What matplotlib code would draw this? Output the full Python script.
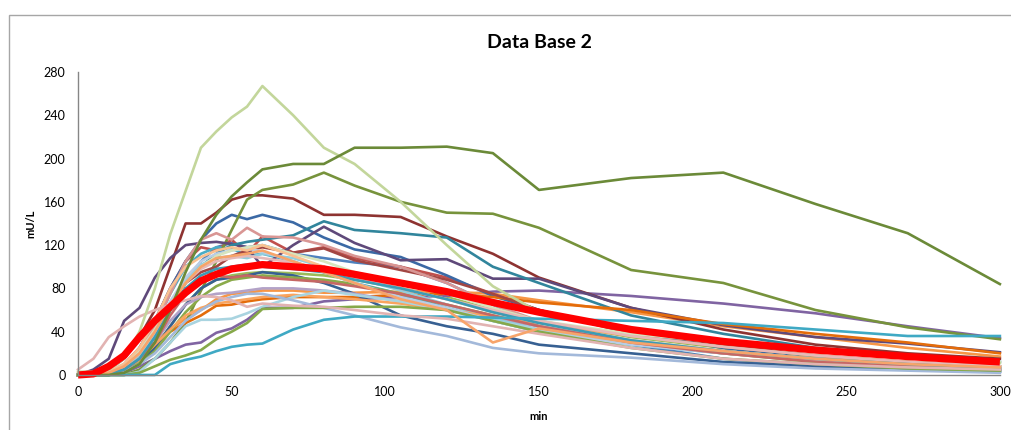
import matplotlib
matplotlib.use("Agg")
import matplotlib.pyplot as plt
from matplotlib.patches import Rectangle

# sampling times (min)
times = [0, 5, 10, 15, 20, 25, 30, 35, 40, 45, 50, 55, 60, 70, 80, 90, 105, 120, 135, 150, 180, 210, 240, 270, 300]

# individual insulin curves (mU/L)
dark_green = [0, 0, 0, 2, 10, 30, 60, 95, 125, 148, 165, 178, 190, 195, 195, 210, 210, 211, 205, 171, 182, 187, 158, 131, 84]
olive = [0, 0, 0, 0, 5, 15, 30, 48, 78, 105, 134, 162, 171, 176, 187, 175, 160, 150, 149, 136, 97, 85, 60, 44, 33]
sage = [3, 3, 5, 15, 40, 80, 130, 170, 210, 225, 238, 248, 267, 240, 210, 195, 160, 120, 82, 58, 40, 32, 24, 17, 11]
maroon = [0, 2, 5, 15, 35, 60, 100, 140, 140, 150, 162, 166, 166, 163, 148, 148, 146, 128, 112, 90, 62, 42, 28, 20, 15]
blue_hi = [0, 0, 2, 8, 25, 50, 80, 105, 125, 140, 148, 144, 148, 141, 127, 116, 109, 92, 73, 60, 40, 25, 15, 8, 4]
teal = [0, 0, 0, 3, 15, 35, 60, 85, 100, 112, 120, 123, 125, 129, 142, 134, 131, 127, 100, 85, 55, 38, 25, 18, 12]
purple_dk = [0, 5, 15, 50, 62, 90, 108, 120, 122, 123, 121, 118, 100, 120, 137, 122, 106, 107, 89, 89, 62, 46, 35, 29, 21]
aqua_low = [0, 0, 0, 0, 0, 0, 10, 14, 17, 22, 26, 28, 29, 42, 51, 54, 54, 54, 53, 52, 50, 48, 42, 36, 36]
lavender = [0, 0, 0, 2, 8, 15, 22, 28, 30, 39, 43, 51, 62, 62, 68, 70, 72, 73, 77, 78, 73, 66, 57, 45, 34]
orange_a = [0, 0, 2, 8, 18, 30, 42, 52, 60, 70, 75, 76, 78, 78, 76, 76, 77, 77, 75, 69, 58, 45, 35, 25, 17]
orange_b = [0, 0, 1, 5, 15, 28, 40, 48, 55, 64, 65, 68, 70, 72, 72, 72, 74, 75, 72, 67, 60, 47, 38, 30, 20]
peach = [0, 0, 2, 8, 20, 40, 65, 85, 100, 108, 110, 112, 115, 105, 95, 85, 70, 60, 30, 43, 30, 22, 15, 10, 7]
pink = [5, 15, 35, 45, 54, 60, 65, 69, 73, 72, 69, 63, 66, 64, 63, 60, 55, 52, 45, 38, 25, 15, 10, 7, 5]
light_blue = [0, 0, 0, 3, 10, 20, 35, 50, 60, 68, 72, 75, 75, 69, 62, 55, 44, 36, 25, 20, 16, 10, 6, 4, 2]
pale_aqua = [0, 0, 0, 0, 3, 15, 30, 45, 51, 51, 52, 57, 63, 72, 78, 74, 68, 60, 50, 42, 30, 22, 15, 10, 7]
green_slow = [0, 0, 0, 0, 2, 8, 14, 18, 23, 33, 40, 48, 61, 62, 62, 63, 63, 60, 50, 40, 25, 15, 10, 6, 4]
rose = [0, 1, 3, 10, 25, 45, 75, 105, 125, 131, 125, 136, 128, 127, 120, 110, 100, 85, 65, 50, 30, 20, 13, 8, 5]
red = [0, 1, 3, 10, 25, 50, 80, 105, 118, 115, 125, 112, 128, 113, 118, 108, 100, 90, 75, 60, 38, 25, 15, 10, 6]
blue_b = [0, 0, 2, 6, 18, 35, 60, 85, 105, 118, 122, 118, 120, 112, 108, 104, 100, 85, 65, 45, 28, 15, 8, 5, 3]
blue_c = [0, 0, 0, 3, 10, 25, 45, 65, 80, 88, 90, 92, 95, 92, 85, 75, 55, 45, 38, 28, 20, 12, 8, 5, 3]
peach2 = [0, 0, 3, 10, 25, 50, 80, 100, 109, 115, 118, 115, 120, 110, 100, 90, 80, 70, 58, 48, 32, 22, 15, 10, 7]
light_green = [2, 2, 4, 10, 22, 42, 65, 85, 100, 110, 115, 118, 120, 112, 105, 95, 85, 75, 62, 50, 38, 30, 22, 16, 12]
aqua2 = [0, 0, 2, 8, 22, 45, 75, 100, 112, 118, 117, 110, 112, 105, 95, 85, 75, 62, 50, 40, 28, 20, 14, 10, 7]
light_aqua = [0, 0, 1, 6, 18, 38, 65, 88, 102, 108, 110, 108, 112, 108, 100, 90, 78, 65, 52, 42, 30, 22, 15, 10, 6]
light_blue2 = [0, 0, 2, 8, 20, 40, 68, 90, 105, 112, 115, 117, 114, 105, 95, 85, 72, 62, 50, 40, 28, 20, 13, 8, 5]
green_mid = [0, 0, 1, 4, 12, 25, 45, 65, 80, 88, 92, 94, 95, 94, 92, 88, 80, 72, 60, 50, 35, 25, 17, 12, 8]
olive2 = [0, 0, 0, 3, 10, 22, 40, 58, 72, 82, 88, 90, 92, 90, 88, 84, 75, 65, 55, 45, 30, 20, 12, 8, 5]
mauve = [0, 0, 1, 5, 15, 30, 50, 65, 72, 75, 76, 78, 80, 80, 78, 75, 68, 60, 52, 45, 32, 22, 15, 10, 6]
red2 = [0, 0, 1, 5, 15, 30, 55, 75, 88, 92, 90, 92, 90, 88, 86, 82, 75, 65, 55, 45, 30, 20, 12, 8, 5]
teal2 = [0, 0, 1, 5, 15, 35, 60, 80, 92, 98, 100, 102, 100, 98, 95, 88, 80, 70, 58, 48, 32, 22, 15, 10, 6]
pink2 = [0, 0, 2, 8, 20, 40, 65, 85, 98, 105, 108, 110, 108, 104, 98, 90, 80, 70, 60, 50, 36, 26, 18, 12, 8]
orange3 = [0, 0, 1, 5, 14, 28, 42, 55, 62, 66, 68, 70, 72, 74, 72, 70, 66, 60, 54, 48, 36, 26, 18, 12, 8]
dkred2 = [0, 0, 2, 8, 20, 40, 65, 85, 95, 100, 110, 115, 118, 113, 117, 106, 97, 88, 75, 60, 40, 28, 18, 12, 8]

# average curve
mean_curve = [0, 1, 8, 18, 35, 50, 63, 76, 87, 93, 98, 100, 102, 100, 98, 93, 85, 77, 67, 58, 42, 31, 23, 17, 12]

curves = [
    (blue_b, '#4F81BD'), (red, '#C0504D'), (green_mid, '#9BBB59'), (lavender, '#8064A2'),
    (aqua2, '#4BACC6'), (orange_a, '#F79646'), (blue_hi, '#3B69A5'), (maroon, '#8E3331'),
    (olive, '#77933C'), (purple_dk, '#5F497A'), (teal, '#31859C'), (orange_b, '#E46C0A'),
    (blue_c, '#376092'), (dkred2, '#A24643'), (olive2, '#8AAA4A'), (mauve, '#B3A2C7'),
    (light_aqua, '#93CDDD'), (orange3, '#F9A45F'), (light_blue2, '#B9CDE5'), (rose, '#D99694'),
    (light_green, '#D7E4BD'), (pale_aqua, '#A9D4E0'), (peach2, '#FAC090'), (pink2, '#E6B9B8'),
    (light_blue, '#A3B9DA'), (red2, '#C66764'), (teal2, '#3D9BB5'), (green_slow, '#86A94A'),
    (aqua_low, '#3FA9C4'), (pink, '#E2B3B2'), (peach, '#F7A46A'), (sage, '#C3D69B'),
    (dark_green, '#6B8A38'),
]

plt.rcParams['font.family'] = ['Lato', 'DejaVu Sans']

fig = plt.figure(figsize=(10.11, 4.30), dpi=100)
ax = fig.add_axes([0.0772, 0.128, 0.9118, 0.7046])

for values, color in curves:
    ax.plot(times, values, color=color, linewidth=1.9, clip_on=False, solid_joinstyle='round')
ax.plot(times, mean_curve, color='#FF0000', linewidth=5.2, clip_on=False, solid_capstyle='butt')

ax.set_xlim(0, 300)
ax.set_ylim(0, 280)
ax.set_xticks(range(0, 301, 50))
ax.set_yticks(range(0, 281, 40))
ax.tick_params(length=0, labelsize=9)
ax.tick_params(axis='y', pad=9)
ax.tick_params(axis='x', pad=8)
for side in ('top', 'right'):
    ax.spines[side].set_visible(False)
for side in ('left', 'bottom'):
    ax.spines[side].set_color('#868686')
    ax.spines[side].set_linewidth(1.0)

ax.set_title('Data Base 2', fontsize=14, fontweight='bold', pad=17)
ax.set_xlabel('min', fontsize=8, fontweight='bold', labelpad=9)
ax.set_ylabel('mU/L', fontsize=8, fontweight='bold', labelpad=5)

# chart area border
fig.add_artist(Rectangle((9 / 1011, -0.1), 1.2, (430 - 15) / 430 + 0.1,
                         transform=fig.transFigure, fill=False,
                         edgecolor='#A6A6A6', linewidth=1.0))

fig.savefig('out.png', dpi=100)
